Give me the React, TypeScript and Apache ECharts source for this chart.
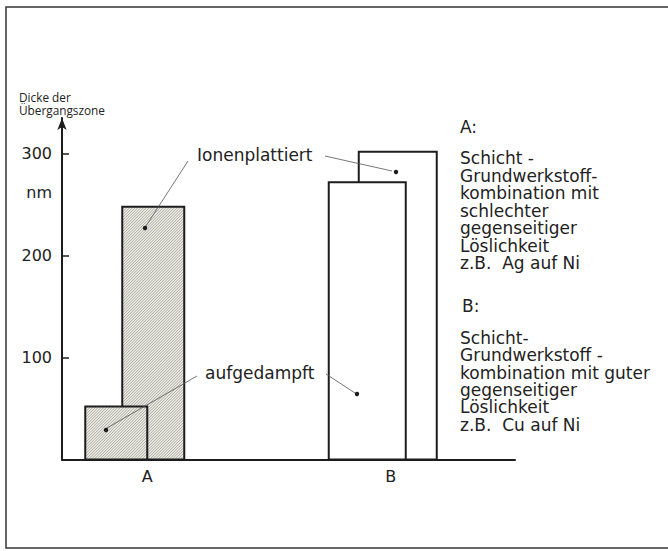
import React, { useEffect, useRef } from 'react';
import * as echarts from 'echarts';

// ---- data ----
const categories = ['A', 'B'];
const aufgedampft = [52, 272];
const ionenplattiert = [248, 302];
const yTicks = [100, 200, 300];
const yMax = 335;
const yAxisTitle = ['Dicke der', 'Übergangszone'];
const unitLabel = 'nm';
const noteATitle = 'A:';
const noteA = ['Schicht -', 'Grundwerkstoff-', 'kombination mit', 'schlechter', 'gegenseitiger', 'Löslichkeit', 'z.B.  Ag auf Ni'];
const noteBTitle = 'B:';
const noteB = ['Schicht-', 'Grundwerkstoff -', 'kombination mit guter', 'gegenseitiger', 'Löslichkeit', 'z.B.  Cu auf Ni'];

// ---- layout (pixels relative to category centre) ----
const LAYOUT: Record<string, number[][]> = {
  aufgedampft: [[-90, 62], [-73, 77]],
  ionenplattiert: [[-53, 62], [-43, 78]],
};
const HATCHED = [true, false];
const FONT = 'DejaVu Sans';
const INK = '#1c1c1c';

function makeRender(key: string) {
  return (params: any, api: any) => {
    const idx = api.value(0);
    const val = api.value(1);
    const base = api.coord([idx, 0]);
    const top = api.coord([idx, val]);
    const [off, w] = LAYOUT[key][idx];
    const x0 = base[0] + off;
    const x1 = x0 + w;
    const y0 = top[1];
    const y1 = base[1];
    const children: any[] = [
      {
        type: 'rect',
        shape: { x: x0, y: y0, width: w, height: y1 - y0 },
        style: { fill: HATCHED[idx] ? '#ecebe4' : '#ffffff', stroke: 'none' },
      },
    ];
    if (HATCHED[idx]) {
      const step = 2.8;
      for (let c = x0 + y0 + step; c < x1 + y1; c += step) {
        const xa = Math.max(x0, c - y1);
        const xb = Math.min(x1, c - y0);
        if (xb <= xa) continue;
        children.push({
          type: 'line',
          shape: { x1: xa, y1: c - xa, x2: xb, y2: c - xb },
          style: { stroke: '#8f8f8a', lineWidth: 0.7 },
        });
      }
    }
    children.push({
      type: 'rect',
      shape: { x: x0, y: y0, width: w, height: y1 - y0 },
      style: { fill: 'none', stroke: INK, lineWidth: 2 },
    });
    return { type: 'group', children };
  };
}

export default function App() {
  const ref = useRef<HTMLDivElement>(null);
  useEffect(() => {
    document.body.style.margin = '0';
    const chart = echarts.init(ref.current!, null, { renderer: 'svg' });
    const lineStyle = { stroke: '#555', lineWidth: 0.8 };
    const dot = (x: number, y: number) => ({ type: 'circle', shape: { cx: x, cy: y, r: 2.2 }, style: { fill: INK }, z: 10 });
    const leader = (x1: number, y1: number, x2: number, y2: number) => ({
      type: 'line', shape: { x1, y1, x2, y2 }, style: lineStyle, z: 10,
    });
    const txt = (x: number, y: number, text: string, extra: any = {}) => ({
      type: 'text', x, y, z: 10,
      style: { text, fontFamily: FONT, fontSize: 17, fill: '#222', verticalAlign: 'middle', ...extra },
    });
    chart.setOption({
      animation: false,
      backgroundColor: '#ffffff',
      grid: { left: 62, right: 153, top: 118, bottom: 91.5 },
      xAxis: {
        type: 'category',
        data: categories,
        axisLine: { show: true, lineStyle: { color: INK, width: 2 } },
        axisTick: { show: false },
        axisLabel: {
          margin: 9,
          fontFamily: FONT,
          fontSize: 16,
          color: '#222',
          formatter: (v: string) => `{${v}|${v}}`,
          rich: {
            A: { padding: [0, 56, 0, 0], fontFamily: FONT, fontSize: 16, color: '#222' },
            B: { padding: [0, 22, 0, 0], fontFamily: FONT, fontSize: 16, color: '#222' },
          },
        },
        splitLine: { show: false },
      },
      yAxis: {
        type: 'value',
        min: 0,
        max: yMax,
        axisLine: {
          show: true,
          lineStyle: { color: INK, width: 2 },
          symbol: ['none', 'arrow'],
          symbolSize: [7, 12],
        },
        axisTick: { show: true, inside: true, length: 7, customValues: yTicks, lineStyle: { color: INK, width: 1.5 } },
        axisLabel: { customValues: yTicks, margin: 10, fontFamily: FONT, fontSize: 16, color: '#222' },
        splitLine: { show: false },
      },
      series: [
        {
          type: 'custom',
          name: 'Ionenplattiert',
          renderItem: makeRender('ionenplattiert'),
          data: ionenplattiert.map((v, i) => [i, v]),
          z: 2,
        },
        {
          type: 'custom',
          name: 'aufgedampft',
          renderItem: makeRender('aufgedampft'),
          data: aufgedampft.map((v, i) => [i, v]),
          z: 3,
        },
      ],
      graphic: [
        { type: 'rect', shape: { x: 6, y: 7, width: 680, height: 541 }, style: { fill: 'none', stroke: '#333', lineWidth: 1.5 }, silent: true },
        txt(19, 90.5, yAxisTitle.join('\n'), { fontFamily: 'Open Sans', fontSize: 11.8, lineHeight: 13, verticalAlign: 'top' }),
        txt(52, 192, unitLabel, { align: 'right', fontSize: 16 }),
        txt(197, 155, 'Ionenplattiert'),
        txt(205, 373, 'aufgedampft'),
        leader(188, 161, 146, 226),
        dot(145, 228),
        leader(325, 156, 392, 171),
        dot(396, 172),
        leader(197, 376, 107, 428),
        dot(106, 430),
        leader(326, 374, 355, 393),
        dot(357, 394),
        txt(460, 127, noteATitle),
        txt(460, 149.25, noteA.join('\n'), { verticalAlign: 'top', lineHeight: 17.5 }),
        txt(462, 306, noteBTitle),
        txt(460, 329, noteB.join('\n'), { verticalAlign: 'top', lineHeight: 17.4 }),
      ],
    });
    return () => chart.dispose();
  }, []);
  return <div ref={ref} style={{ position: 'absolute', left: 0, top: 0, width: 668, height: 551 }} />;
}
